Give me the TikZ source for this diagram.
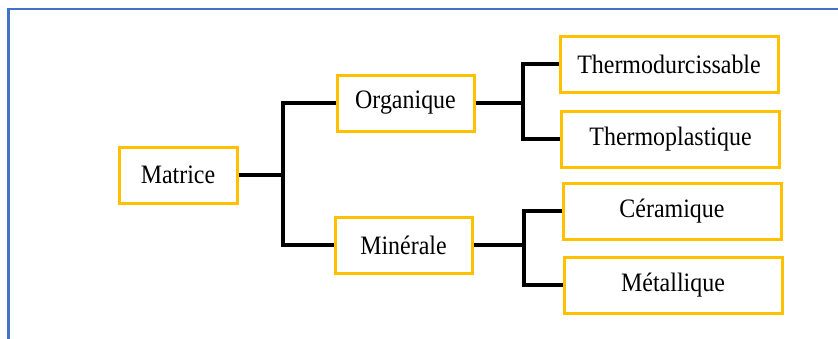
\documentclass[tikz,border=0pt]{standalone}
\usepackage{fontspec}
\setmainfont{Liberation Serif}[FakeStretch=0.9]
\usepackage{tikz}
\usetikzlibrary{positioning, calc}
\definecolor{boxorange}{HTML}{FFC000}
\definecolor{frameblue}{HTML}{4472C4}
\tikzstyle{rootbox} = [rectangle, minimum width=59pt, minimum height=28pt, inner sep=0pt, text centered, draw=boxorange, line width=1.5pt, font=\fontsize{13.3}{15}\selectfont]
\tikzstyle{kindbox} = [rootbox, minimum width=68.5pt]
\tikzstyle{leafbox} = [rootbox, minimum width=109pt]
\tikzstyle{branch} = [line width=1.75pt, black, line join=miter]

\begin{document}
\begin{tikzpicture}[x=0.5pt, y=-0.5pt]
\useasboundingbox (0,0) rectangle (838,338);
\draw [frameblue, line width=1.1pt] (845,9) -- (8.5,9) -- (8.5,345);

% Nodes
\node (matrice) [rootbox] at (178,175) {Matrice};
\node (organique) [kindbox] at (405.5,103) {Organique};
\node (minerale) [kindbox] at (403.5,245) {Minérale};
\node (thermodur) [leafbox] at (669,64) {Thermodurcissable};
\node (thermoplast) [leafbox] at (670.5,139) {Thermoplastique};
\node (ceramique) [leafbox] at (672,211) {Céramique};
\node (metallique) [leafbox] at (673,285) {Métallique};

% Junctions
\coordinate (jmat) at (283,175);
\coordinate (jorg) at (523,103);
\coordinate (jmin) at (524,245);

% Branches
\draw [branch] (matrice.east) -- (jmat) |- (organique.west);
\draw [branch] (jmat) |- (minerale.west);
\draw [branch] (organique.east) -- (jorg) |- (thermodur.west);
\draw [branch] (jorg) |- (thermoplast.west);
\draw [branch] (minerale.east) -- (jmin) |- (ceramique.west);
\draw [branch] (jmin) |- (metallique.west);

\end{tikzpicture}
\end{document}
